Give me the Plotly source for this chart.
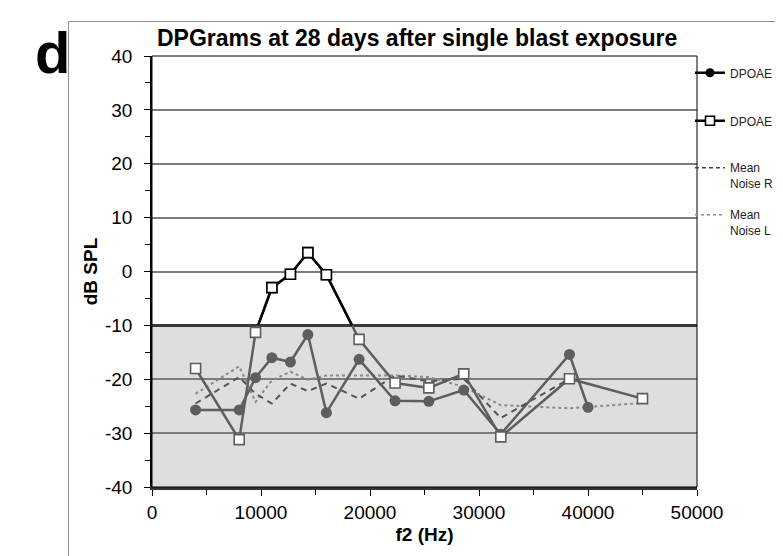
import plotly.graph_objects as go

# ---------------- data ----------------
freq_R = [4000, 8000, 9500, 11000, 12700, 14300, 16000, 19000, 22300, 25400, 28600, 32000, 38300, 40000]
dpoae_R = [-25.7, -25.7, -19.7, -16.0, -16.8, -11.7, -26.2, -16.3, -24.0, -24.1, -22.0, -30.2, -15.4, -25.2]

freq_L = [4000, 8000, 9500, 11000, 12700, 14300, 16000, 19000, 22300, 25400, 28600, 32000, 38300, 45000]
dpoae_L = [-18.0, -31.2, -11.3, -3.0, -0.5, 3.5, -0.6, -12.6, -20.7, -21.6, -19.0, -30.7, -19.9, -23.6]

freq_noise_R = [4000, 8000, 9500, 11000, 12700, 14300, 16000, 19000, 22300, 25400, 28600, 32000, 38300]
noise_R = [-24.5, -19.6, -22.7, -24.5, -20.8, -22.2, -20.8, -23.6, -19.3, -20.4, -19.9, -27.2, -19.9]

freq_noise_L = [4000, 8000, 9500, 11000, 12700, 14300, 16000, 19000, 22300, 25400, 28600, 32000, 38300, 45000]
noise_L = [-22.7, -17.6, -24.2, -20.2, -18.6, -20.1, -19.3, -19.3, -19.3, -19.6, -21.4, -24.8, -25.4, -24.4]

noise_floor = -10
x_range = [0, 50000]
y_range = [-40, 40]
y_ticks = [40, 30, 20, 10, 0, -10, -20, -30, -40]
x_ticks = [0, 10000, 20000, 30000, 40000, 50000]

title_text = "DPGrams at 28 days after single blast exposure"
legend_names = ["DPOAE", "DPOAE", "Mean<br>Noise R", "Mean<br>Noise L"]

# ---------------- helpers ----------------
FONT = "Liberation Sans, Arial, sans-serif"
GRAY_LINE = "#5e5e5e"
OFF = 8  # page body margin
W, H = 783 - OFF, 556 - OFF
L, T = 152 - OFF, 56 - OFF
R, B = 783 - 697, 556 - 487
PW, PH = W - L - R, H - T - B


def px(xp):
    """window pixel x -> paper coordinate"""
    return (xp - OFF - L) / PW


def py(yp):
    """window pixel y -> paper coordinate"""
    return (H - B - (yp - OFF)) / PH


def above_segments(xs, ys, thr):
    """split a polyline into the parts lying above thr (interpolated crossings)."""
    segx, segy = [], []
    for i in range(len(xs)):
        if ys[i] >= thr:
            if i > 0 and ys[i - 1] < thr:
                t = (thr - ys[i - 1]) / (ys[i] - ys[i - 1])
                segx.append(xs[i - 1] + t * (xs[i] - xs[i - 1]))
                segy.append(thr)
            segx.append(xs[i])
            segy.append(ys[i])
            if i + 1 < len(xs) and ys[i + 1] < thr:
                t = (thr - ys[i]) / (ys[i + 1] - ys[i])
                segx.append(xs[i] + t * (xs[i + 1] - xs[i]))
                segy.append(thr)
                segx.append(None)
                segy.append(None)
    return segx, segy


fig = go.Figure()

# noise lines
fig.add_trace(go.Scatter(x=freq_noise_L, y=noise_L, mode="lines", showlegend=False,
                         line=dict(color="#8a8a8a", width=2, dash="dot")))
fig.add_trace(go.Scatter(x=freq_noise_R, y=noise_R, mode="lines", showlegend=False,
                         line=dict(color="#555555", width=2, dash="6px,5px")))

# DPOAE R (filled circles) - in shaded region -> gray
fig.add_trace(go.Scatter(x=freq_R, y=dpoae_R, mode="lines+markers", showlegend=False,
                         line=dict(color=GRAY_LINE, width=2.5),
                         marker=dict(symbol="circle", size=11, color=GRAY_LINE)))

# DPOAE L (open squares) - gray everywhere, black above noise floor
fig.add_trace(go.Scatter(x=freq_L, y=dpoae_L, mode="lines+markers", showlegend=False,
                         line=dict(color=GRAY_LINE, width=2.5),
                         marker=dict(symbol="square", size=10, color="white",
                                     line=dict(color=GRAY_LINE, width=1.6))))
sx, sy = above_segments(freq_L, dpoae_L, noise_floor)
fig.add_trace(go.Scatter(x=sx, y=sy, mode="lines", showlegend=False,
                         line=dict(color="black", width=2.5)))
ax_ = [x for x, y in zip(freq_L, dpoae_L) if y >= noise_floor]
ay_ = [y for y in dpoae_L if y >= noise_floor]
fig.add_trace(go.Scatter(x=ax_, y=ay_, mode="markers", showlegend=False,
                         marker=dict(symbol="square", size=10, color="white",
                                     line=dict(color="black", width=1.6))))

# legend entries (separate legends for exact placement)
fig.add_trace(go.Scatter(x=[None], y=[None], mode="lines+markers", name=legend_names[0],
                         legend="legend", line=dict(color="black", width=2.5),
                         marker=dict(symbol="circle", size=9, color="black")))
fig.add_trace(go.Scatter(x=[None], y=[None], mode="lines+markers", name=legend_names[1],
                         legend="legend2", line=dict(color="black", width=2.5),
                         marker=dict(symbol="square", size=9, color="white",
                                     line=dict(color="black", width=1.6))))
fig.add_trace(go.Scatter(x=[None], y=[None], mode="lines", name=legend_names[2],
                         legend="legend3", line=dict(color="#444444", width=1.5, dash="4px,3px")))
fig.add_trace(go.Scatter(x=[None], y=[None], mode="lines", name=legend_names[3],
                         legend="legend4", line=dict(color="#8a8a8a", width=1.5, dash="dot")))

leg_common = dict(font=dict(family=FONT, size=12, color="#222222"), bgcolor="rgba(0,0,0,0)",
                  borderwidth=0, xanchor="left", yanchor="middle", valign="top",
                  itemwidth=30, x=px(690))

shapes = [
    # shaded noise-floor region
    dict(type="rect", xref="x", yref="y", x0=x_range[0], x1=x_range[1], y0=y_range[0], y1=noise_floor,
         fillcolor="#dedede", line=dict(width=0), layer="below"),
    dict(type="line", xref="x", yref="y", x0=x_range[0], x1=x_range[1], y0=noise_floor, y1=noise_floor,
         line=dict(color="#3a3a3a", width=3), layer="between"),
    # plot border (top / right)
    dict(type="rect", xref="x domain", yref="y domain", x0=0, x1=1, y0=0, y1=1,
         line=dict(color="black", width=1), layer="above"),
    # outer panel frame
    dict(type="rect", xref="paper", yref="paper", x0=px(68.5), x1=px(800), y0=py(600), y1=py(21.5),
         line=dict(color="#8c8c8c", width=1), layer="below"),
]

annotations = [
    dict(text="<b>" + title_text + "</b>", xref="paper", yref="paper", x=px(416.5), y=py(38.5),
         xanchor="center", yanchor="middle", showarrow=False,
         font=dict(family=FONT, size=23, color="black")),
    dict(text="<b>d</b>", xref="paper", yref="paper", x=px(52.5), y=py(53),
         xanchor="center", yanchor="middle", showarrow=False,
         font=dict(family=FONT, size=58, color="black")),
]

fig.update_layout(
    width=W, height=H,
    margin=dict(l=L, r=R, t=T, b=B, autoexpand=False),
    paper_bgcolor="white", plot_bgcolor="white",
    font=dict(family=FONT, color="black"),
    shapes=shapes, annotations=annotations,
    legend=dict(leg_common, y=py(73)),
    legend2=dict(leg_common, y=py(121)),
    legend3=dict(leg_common, y=py(176)),
    legend4=dict(leg_common, y=py(223)),
    xaxis=dict(range=x_range, tickvals=x_ticks, ticktext=[str(v) for v in x_ticks],
               showgrid=False, zeroline=False, showline=True, linecolor="#333333", linewidth=3,
               ticks="outside", ticklen=6, tickwidth=1.2, tickcolor="black",
               minor=dict(dtick=5000, ticks="outside", ticklen=5, tickcolor="black", tickwidth=1.2),
               tickfont=dict(family=FONT, size=19, color="black"),
               title=dict(text="<b>f2 (Hz)</b>", font=dict(family=FONT, size=19, color="black"),
                          standoff=6)),
    yaxis=dict(range=y_range, tickvals=y_ticks, ticktext=[str(v) for v in y_ticks],
               showgrid=True, gridcolor="#7c7c7c", gridwidth=1.5, zeroline=False,
               showline=True, linecolor="black", linewidth=1.5,
               ticks="outside", ticklen=6, tickwidth=1.2, tickcolor="black",
               ticklabelstandoff=8,
               minor=dict(dtick=5, ticks="outside", ticklen=5, tickcolor="black", tickwidth=1.2,
                          showgrid=False),
               tickfont=dict(family=FONT, size=19, color="black"),
               title=dict(text="<b>dB SPL</b>", font=dict(family=FONT, size=19, color="black"),
                          standoff=2)),
)

fig.write_html("out.html")
